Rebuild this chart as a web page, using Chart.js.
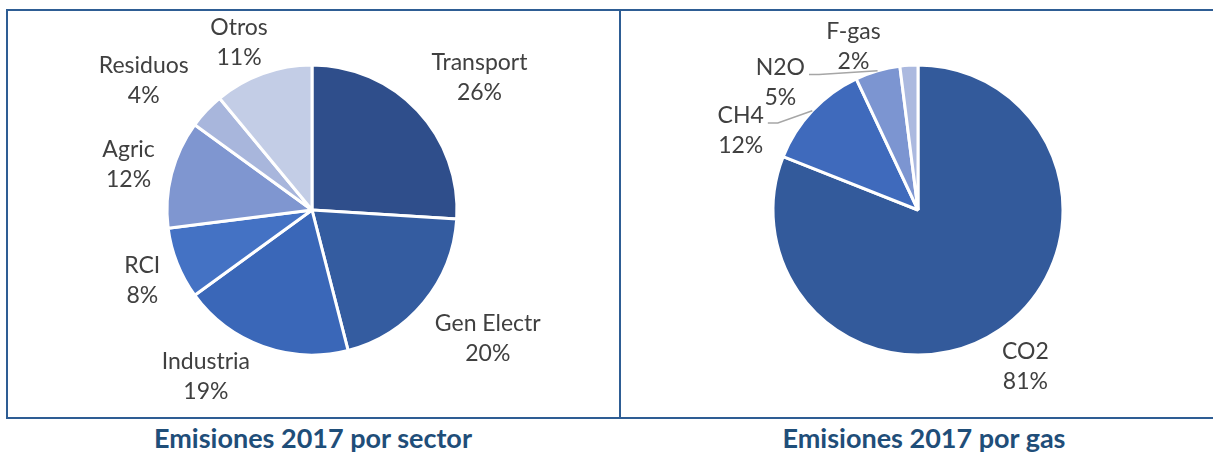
<!DOCTYPE html>
<html>
<head>
<meta charset="utf-8">
<script src="https://cdn.jsdelivr.net/npm/chart.js@4.4.1/dist/chart.umd.min.js"></script>
<style>
  html, body { margin: 0; padding: 0; background: #fff; }
  body { width: 1213px; height: 453px; position: relative; overflow: hidden; font-family: Lato, sans-serif; }
  .box { position: absolute; border: 2px solid #2e5d94; box-sizing: border-box; }
  #boxSector { left: 6px; top: 9px; width: 615px; height: 410px; }
  #boxGas { left: 619px; top: 9px; width: 620px; height: 410px; }
  .wrap { position: absolute; }
  #wrapSector { left: 8px; top: 11px; width: 608px; height: 398px; }
  #wrapGas { left: 621px; top: 11px; width: 594px; height: 398px; }
  .titulo { position: absolute; top: 422px; color: #1f4e79; font-weight: bold; font-size: 27px; line-height: 32px; text-align: center; width: 500px; }
  #tituloSector { left: 63px; }
  #tituloGas { left: 674px; }
</style>
</head>
<body>
<div class="box" id="boxSector"></div>
<div class="box" id="boxGas"></div>
<div class="wrap" id="wrapSector"><canvas id="sectorChart" width="608" height="398"></canvas></div>
<div class="wrap" id="wrapGas"><canvas id="gasChart" width="594" height="398"></canvas></div>
<div class="titulo" id="tituloSector">Emisiones 2017 por sector</div>
<div class="titulo" id="tituloGas">Emisiones 2017 por gas</div>

<script>
// datos (porcentajes de emisiones 2017)
const sectores = ['Transport', 'Gen Electr', 'Industria', 'RCI', 'Agric', 'Residuos', 'Otros'];
const valoresSector = [26, 20, 19, 8, 12, 4, 11];
const coloresSector = ['#2f4e8b', '#345ca0', '#3a67b8', '#4472c4', '#7f96d0', '#a8b6dc', '#c3cde6'];

const gases = ['CO2', 'CH4', 'N2O', 'F-gas'];
const valoresGas = [81, 12, 5, 2];
const coloresGas = ['#335a9b', '#3f6abc', '#7c95d1', '#abb9df'];

// pequeños ajustes de las etiquetas (como las coloca Excel)
const ajusteSector = [[18, -4], [14, 9], [-38, -9], [-7, 2], [-6, 1], [-21, -1], [-10, 9]];
const ajusteGas = [[6, 2], [-46, 49], [-87, 52], [-53, 23]];

const etiquetasPlugin = {
    id: 'etiquetas',
    afterDatasetsDraw(chart, args, opts) {
        const ctx = chart.ctx;
        const meta = chart.getDatasetMeta(0);
        const data = chart.data.datasets[0].data;
        const total = data.reduce((a, b) => a + b, 0);
        const lineH = 30;
        ctx.save();
        ctx.font = '23px Lato';
        ctx.fillStyle = '#404040';
        ctx.textAlign = 'center';
        ctx.textBaseline = 'middle';
        meta.data.forEach((arc, i) => {
            const p = arc.getProps(['x', 'y', 'startAngle', 'endAngle', 'outerRadius'], true);
            const mid = (p.startAngle + p.endAngle) / 2;
            const dx = Math.cos(mid), dy = Math.sin(mid);
            const l1 = chart.data.labels[i];
            const l2 = Math.round(data[i] / total * 100) + '%';
            const w = Math.max(ctx.measureText(l1).width, ctx.measureText(l2).width);
            const h = lineH * 2;
            const r = p.outerRadius + 12;
            const aj = (opts.ajuste && opts.ajuste[i]) || [0, 0];
            const cx = p.x + dx * r + dx * w / 2 + aj[0];
            const cy = p.y + dy * r + dy * h / 2 + aj[1];
            ctx.fillText(l1, cx, cy - lineH / 2);
            ctx.fillText(l2, cx, cy + lineH / 2);
            if (opts.guias && opts.guias[i]) {
                const ex = p.x + dx * p.outerRadius;
                const ey = p.y + dy * p.outerRadius;
                const sx = cx + w / 2 + 4;
                const sy = cy - 8;
                ctx.beginPath();
                ctx.strokeStyle = '#a6a6a6';
                ctx.lineWidth = 1.5;
                ctx.moveTo(sx, sy);
                ctx.lineTo(sx + 10, sy);
                ctx.lineTo(ex, ey);
                ctx.stroke();
            }
        });
        ctx.restore();
    }
};

function pastel(id, labels, valores, colores, ajuste, guias) {
    const ctx = document.getElementById(id);
    if (!ctx) return;
    return new Chart(ctx, {
        type: 'pie',
        data: {
            labels: labels,
            datasets: [{
                data: valores,
                backgroundColor: colores,
                borderColor: '#ffffff',
                borderWidth: 3
            }]
        },
        options: {
            responsive: false,
            animation: false,
            radius: 145,
            plugins: {
                legend: { display: false },
                tooltip: { enabled: false },
                etiquetas: { ajuste: ajuste, guias: guias }
            }
        },
        plugins: [etiquetasPlugin]
    });
}

pastel('sectorChart', sectores, valoresSector, coloresSector, ajusteSector, null);
pastel('gasChart', gases, valoresGas, coloresGas, ajusteGas, [false, true, true, false]);
</script>
</body>
</html>
